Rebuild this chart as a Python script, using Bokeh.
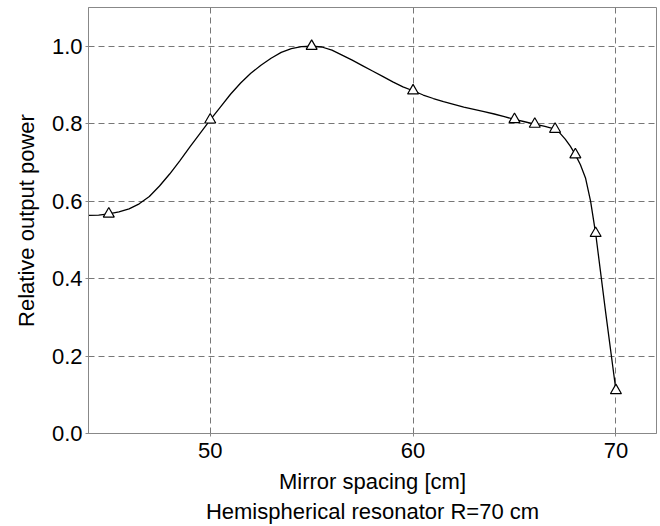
from bokeh.plotting import figure
from bokeh.models import Range1d, FixedTicker, PrintfTickFormatter, Title
from bokeh.embed import file_html
from bokeh.resources import INLINE

# measured points
x_pts = [45, 50, 55, 60, 65, 66, 67, 68, 69, 70]
y_pts = [0.567, 0.810, 1.000, 0.885, 0.811, 0.799, 0.786, 0.720, 0.517, 0.111]

# smooth fitted curve
curve_x = [44.0, 44.5, 45.0, 45.5, 46.0, 46.5, 47.0, 47.5, 48.0, 48.5, 49.0, 49.5,
           50.0, 50.5, 51.0, 51.5, 52.0, 52.5, 53.0, 53.5, 54.0, 54.5, 55.0, 55.5,
           56.0, 56.5, 57.0, 57.5, 58.0, 58.5, 59.0, 59.5, 60.0, 60.5, 61.0, 61.5,
           62.0, 62.5, 63.0, 63.5, 64.0, 64.5, 65.0, 65.5, 66.0, 66.5, 67.0, 67.25,
           67.5, 67.75, 68.0, 68.25, 68.5, 68.75, 69.0, 69.5, 70.0]
curve_y = [0.563, 0.564, 0.567, 0.572, 0.580, 0.593, 0.612, 0.639, 0.670, 0.704, 0.740, 0.775,
           0.810, 0.843, 0.876, 0.905, 0.930, 0.951, 0.969, 0.984, 0.994, 0.999, 1.000, 0.998,
           0.990, 0.977, 0.964, 0.950, 0.936, 0.922, 0.908, 0.895, 0.885, 0.874, 0.865, 0.857,
           0.850, 0.843, 0.837, 0.831, 0.825, 0.818, 0.811, 0.805, 0.799, 0.793, 0.786, 0.775,
           0.760, 0.742, 0.720, 0.694, 0.660, 0.600, 0.517, 0.310, 0.111]

x_ticks = [50, 60, 70]
y_ticks = [0.0, 0.2, 0.4, 0.6, 0.8, 1.0]

FONT = "Liberation Sans"
FS = "22px"
GRID = "#777777"
AXC = "#888888"

p = figure(width=660, height=526, output_backend="svg", toolbar_location=None,
           x_range=Range1d(44, 72), y_range=Range1d(0, 1.1),
           min_border_left=88, min_border_right=4, min_border_top=7, min_border_bottom=93)
p.background_fill_color = "white"
p.border_fill_color = "white"
p.outline_line_color = AXC
p.outline_line_width = 1

for ax in (p.xaxis[0], p.yaxis[0]):
    ax.axis_line_color = AXC
    ax.major_tick_line_color = AXC
    ax.minor_tick_line_color = None
    ax.major_tick_in = 0
    ax.major_tick_out = 3
    ax.major_label_text_font = FONT
    ax.major_label_text_font_size = FS
    ax.major_label_text_color = "black"
    ax.axis_label_text_font = FONT
    ax.axis_label_text_font_size = FS
    ax.axis_label_text_font_style = "normal"
    ax.axis_label_text_color = "black"

p.xaxis.ticker = FixedTicker(ticks=x_ticks)
p.yaxis.ticker = FixedTicker(ticks=y_ticks)
p.yaxis.formatter = PrintfTickFormatter(format="%.1f")
p.xaxis.major_label_standoff = 6
p.yaxis.major_label_standoff = 3
p.xaxis.axis_label = "Mirror spacing [cm]"
p.yaxis.axis_label = "Relative output power"
p.xaxis.axis_label_standoff = 8
p.yaxis.axis_label_standoff = 10

p.xgrid.ticker = FixedTicker(ticks=x_ticks)
p.ygrid.ticker = FixedTicker(ticks=y_ticks)
for g in (p.xgrid[0], p.ygrid[0]):
    g.grid_line_color = GRID
    g.grid_line_dash = "6 4"
    g.grid_line_width = 1

sub = Title(text="Hemispherical resonator R=70 cm", align="center",
            text_font=FONT, text_font_size=FS, text_font_style="normal",
            text_color="black", standoff=0)
p.add_layout(sub, "below")

p.line(curve_x, curve_y, line_color="black", line_width=1.3)
p.scatter(x_pts, y_pts, marker="triangle", size=11, fill_color="white",
          line_color="black", line_width=1.2)

open("out.html", "w").write(file_html(p, INLINE))
